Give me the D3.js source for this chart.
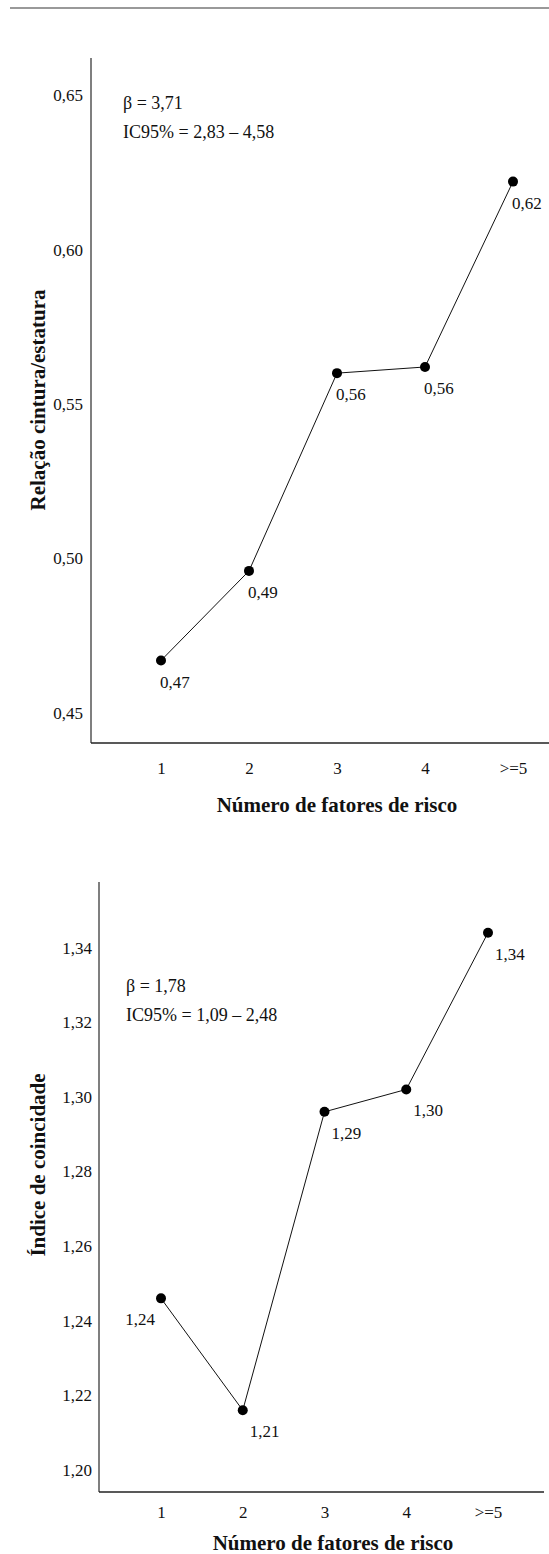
<!DOCTYPE html>
<html>
<head>
<meta charset="utf-8">
<script src="https://cdn.jsdelivr.net/npm/d3@7"></script>
<style>
  body { margin: 0; background: #fff; }
  svg, svg text { font-family: "Liberation Serif", "DejaVu Serif", serif !important; fill: #111; }
  .tick text { font-size: 17px; }
  .lbl { font-size: 17px; }
  .note { font-size: 18px; }
  .title { font-size: 21px; font-weight: bold; }
</style>
</head>
<body>
<div id="chart"></div>
<script>
// categories (x axis)
var categories = ["1", "2", "3", "4", ">=5"];

// chart 1: waist / height ratio
var rceValues = [0.467, 0.496, 0.560, 0.562, 0.622];
var rceLabels = ["0,47", "0,49", "0,56", "0,56", "0,62"];
var rceTicks = [0.45, 0.50, 0.55, 0.60, 0.65];

// chart 2: conicity index
var icValues = [1.246, 1.216, 1.296, 1.302, 1.344];
var icLabels = ["1,24", "1,21", "1,29", "1,30", "1,34"];
var icTicks = [1.20, 1.22, 1.24, 1.26, 1.28, 1.30, 1.32, 1.34];

var serif = "'Liberation Serif', 'DejaVu Serif', serif";
var fmt = d3.format(".2f");
function comma(v) { return fmt(v).replace(".", ","); }

function init() {
    var w = 549, h = 1554;
    var svg = d3.select("#chart").append("svg")
        .attr("width", w).attr("height", h)
        .attr("font-family", serif);

    // rule at the top of the page
    svg.append("line")
        .attr("x1", 10).attr("x2", w).attr("y1", 8).attr("y2", 8)
        .attr("stroke", "#777").attr("stroke-width", 1.5);

    drawChart(svg, {
        values: rceValues, labels: rceLabels, ticks: rceTicks,
        domain: [0.4403, 0.662], left: 91, right: 549, top: 58, bottom: 743,
        xRange: [161, 513], xPad: 19, tickPad: 8,
        yTitle: "Relação cintura/estatura", yTitleY: 400,
        xTitleX: 337, xTitleY: 812,
        notes: ["β = 3,71", "IC95% = 2,83 – 4,58"], noteX: 123, noteY: 109,
        firstLeft: false, ldx: -1
    });

    drawChart(svg, {
        values: icValues, labels: icLabels, ticks: icTicks,
        domain: [1.1941, 1.3576], left: 99, right: 544, top: 882, bottom: 1492,
        xRange: [161, 488], xPad: 14, tickPad: 7,
        yTitle: "Índice de coincidade", yTitleY: 1165,
        xTitleX: 333, xTitleY: 1550,
        notes: ["β = 1,78", "IC95% = 1,09 – 2,48"], noteX: 126, noteY: 992,
        firstLeft: true, ldx: 7
    });

    svg.selectAll("text").style("font-family", serif);
}

function drawChart(svg, o) {
    var x = d3.scalePoint().domain(categories).range(o.xRange);
    var y = d3.scaleLinear().domain(o.domain).range([o.bottom, o.top]);

    // y axis
    var yAxis = d3.axisLeft(y).tickValues(o.ticks).tickSize(0).tickPadding(o.tickPad).tickFormat(comma);
    var gy = svg.append("g").attr("transform", "translate(" + o.left + ",0)").call(yAxis);
    gy.attr("font-family", null).attr("font-size", null);
    gy.select(".domain").remove();
    svg.append("line")
        .attr("x1", o.left).attr("x2", o.left).attr("y1", o.top).attr("y2", o.bottom)
        .attr("stroke", "#555").attr("stroke-width", 1.5);

    // x axis
    var xAxis = d3.axisBottom(x).tickSize(0).tickPadding(o.xPad);
    var gx = svg.append("g").attr("transform", "translate(0," + o.bottom + ")").call(xAxis);
    gx.attr("font-family", null).attr("font-size", null);
    gx.select(".domain").remove();
    svg.append("line")
        .attr("x1", o.left).attr("x2", o.right).attr("y1", o.bottom).attr("y2", o.bottom)
        .attr("stroke", "#222").attr("stroke-width", 1.5);

    // line and points
    var line = d3.line()
        .x(function (d, i) { return x(categories[i]); })
        .y(function (d) { return y(d); });
    svg.append("path").attr("d", line(o.values))
        .attr("fill", "none").attr("stroke", "#111").attr("stroke-width", 1);

    svg.append("g").selectAll("circle").data(o.values)
        .enter().append("circle")
        .attr("cx", function (d, i) { return x(categories[i]); })
        .attr("cy", function (d) { return y(d); })
        .attr("r", 5)
        .attr("fill", "#000");

    // value labels
    svg.append("g").selectAll("text").data(o.values)
        .enter().append("text")
        .attr("class", "lbl")
        .attr("x", function (d, i) {
            return (o.firstLeft && i === 0) ? x(categories[i]) - 6 : x(categories[i]) + o.ldx;
        })
        .attr("y", function (d) { return y(d) + 27; })
        .attr("text-anchor", function (d, i) { return (o.firstLeft && i === 0) ? "end" : "start"; })
        .text(function (d, i) { return o.labels[i]; });

    // annotations
    svg.append("g").selectAll("text").data(o.notes)
        .enter().append("text")
        .attr("class", "note")
        .attr("x", o.noteX)
        .attr("y", function (d, i) { return o.noteY + i * 29; })
        .text(function (d) { return d; });

    // titles
    svg.append("text")
        .attr("class", "title")
        .attr("text-anchor", "middle")
        .attr("transform", "translate(45," + o.yTitleY + ") rotate(-90)")
        .text(o.yTitle);

    svg.append("text")
        .attr("class", "title")
        .attr("text-anchor", "middle")
        .attr("x", o.xTitleX).attr("y", o.xTitleY)
        .text("Número de fatores de risco");
}

window.onload = init;
</script>
</body>
</html>
